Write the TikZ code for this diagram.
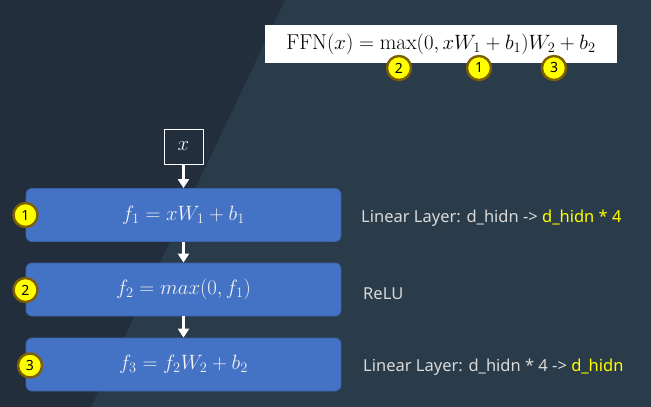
\documentclass[tikz,border=0pt]{standalone}
\usepackage{fontspec}
\usetikzlibrary{arrows.meta}
\newfontfamily\labelfont{Noto Sans}
\definecolor{bgdark}{RGB}{34,46,59}
\definecolor{bglight}{RGB}{42,59,74}
\definecolor{layerblue}{RGB}{68,114,196}
\definecolor{layeredge}{RGB}{58,98,170}
\definecolor{numgold}{RGB}{127,96,0}
\definecolor{numyellow}{RGB}{255,255,0}
\definecolor{labelgrey}{RGB}{217,217,217}
\definecolor{mathwhite}{RGB}{242,242,242}

\begin{document}
\begin{tikzpicture}[x=1pt,y=-1pt,line cap=round,line join=round,
  layerbox/.style={draw=layeredge,fill=layerblue,line width=0.8pt,rounded corners=6pt,minimum width=315pt,minimum height=53pt,inner sep=0pt,text=mathwhite,font=\fontsize{20.5}{24}\selectfont},
  numcirc/.style={circle,draw=numgold,fill=numyellow,line width=2.4pt,minimum size=24pt,inner sep=0pt,font=\labelfont\fontsize{14}{16}\selectfont,text=black},
  sidelabel/.style={anchor=base west,text=labelgrey,font=\labelfont\fontsize{16.5}{19}\selectfont,inner sep=0pt},
  flowarrow/.style={-{Triangle[length=9pt,width=11pt]},white,line width=3pt,line cap=butt}]
\useasboundingbox (0,0) rectangle (651,407);
% background with the diagonal split
\fill[bglight] (0,0) rectangle (651,407);
\fill[bgdark] (0,0) -- (285,0) -- (91,407) -- (0,407) -- cycle;
% formula
\node[fill=white,minimum width=352pt,minimum height=38pt,inner sep=0pt,font=\fontsize{21.5}{25}\selectfont] (ffn) at (441,44) {$\mathrm{FFN}(x) = \max(0, xW_1 + b_1)W_2 + b_2$};
\node[numcirc] (fnum2) at (399,68) {2};
\node[numcirc] (fnum1) at (479,68) {1};
\node[numcirc] (fnum3) at (554,68) {3};
% flow
\node[draw=white,line width=0.8pt,minimum width=39pt,minimum height=35pt,inner sep=0pt,text=mathwhite,font=\fontsize{21}{25}\selectfont] (xin) at (183.5,146.5) {$x$};
\node[layerbox] (layer1) at (183.5,215) {$f_1 = xW_1 + b_1$};
\node[layerbox] (layer2) at (183.5,289.5) {$f_2 = max(0, f_1)$};
\node[layerbox] (layer3) at (183.5,364.5) {$f_3 = f_2W_2 + b_2$};
\draw[flowarrow] (xin) -- (layer1);
\draw[flowarrow] (layer1) -- (layer2);
\draw[flowarrow] (layer2) -- (layer3);
\node[numcirc] (num1) at (25.5,215) {1};
\node[numcirc] (num2) at (25.5,290) {2};
\node[numcirc] (num3) at (30,365.5) {3};
% labels on the right
\node[sidelabel] (lab1) at (361,222) {Linear Layer: d\_hidn -> {\color{numyellow}d\_hidn * 4}};
\node[sidelabel] (lab2) at (363,299) {ReLU};
\node[sidelabel] (lab3) at (363,371) {Linear Layer: d\_hidn * 4 -> {\color{numyellow}d\_hidn}};
\end{tikzpicture}
\end{document}
